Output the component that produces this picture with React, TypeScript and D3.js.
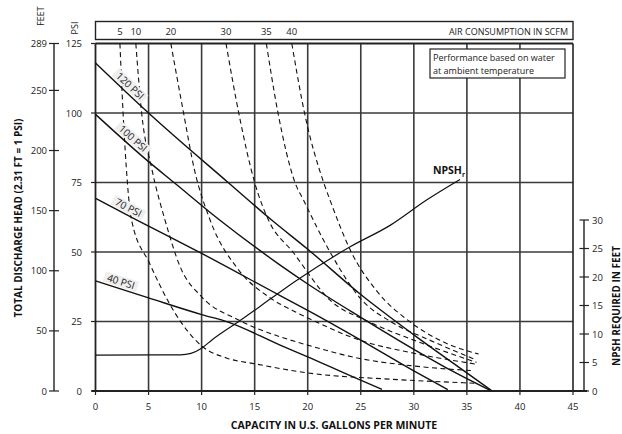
import React from "react";
import * as d3 from "d3";

// ---------- data ----------
const gpmTicks = [0, 5, 10, 15, 20, 25, 30, 35, 40, 45];
const psiTicks = [0, 25, 50, 75, 100, 125];
const feetTicks = [0, 50, 100, 150, 200, 250, 289];
const npshTicks = [0, 5, 10, 15, 20, 25, 30];
const gridGpm = [5, 10, 15, 20, 25, 30, 35, 40];
const gridPsi = [25, 50, 75, 100];

// pressure curves: [gpm, psi]
const psi120: [number, number][] = [[0, 118], [5, 100], [12.5, 75], [16.6, 61.5], [20, 51], [25, 34.7], [30, 20.2], [34, 9.2], [37.3, 0.2]];
const psi100: [number, number][] = [[0, 99.5], [5, 82.5], [7.4, 75], [11.7, 61.5], [17.4, 45.3], [20, 38.5], [25, 26.5], [30, 15], [34, 6.4], [37.2, 0.2]];
const psi70: [number, number][] = [[0, 69.3], [3.9, 61.5], [10, 49.5], [17.4, 34.3], [20, 29], [25, 18.3], [30, 7.2], [33.2, 0.5]];
const psi40: [number, number][] = [[0, 39.6], [5, 33.5], [10, 27.5], [12.5, 24.8], [17.4, 16.5], [20, 12.3], [24, 5.5], [27, 0.6]];
const psiSeries = [
  { name: "120 PSI", data: psi120, labelAt: 2.8 },
  { name: "100 PSI", data: psi100, labelAt: 3.1 },
  { name: "70 PSI", data: psi70, labelAt: 2.8 },
  { name: "40 PSI", data: psi40, labelAt: 2.2 },
];

// air consumption curves (SCFM): [gpm, psi]
const air5: [number, number][] = [[2.3, 125], [2.6, 100], [3.4, 61.5], [5.1, 45.9], [7.5, 28], [10, 16.2], [12.4, 11.8], [15, 9.8], [20, 6.5], [28, 4.2], [35.8, 2.8]];
const air10: [number, number][] = [[3.8, 125], [4.35, 100], [5.3, 80], [6.55, 61.5], [8, 44.5], [10, 33.9], [13.5, 25.5], [17.4, 19.5], [20, 16.5], [24.9, 11.7], [30, 9], [35.6, 7.3]];
const air20: [number, number][] = [[7.1, 125], [8.3, 100], [9.3, 80], [10.8, 61.5], [13.5, 43.5], [16.3, 33.9], [18.8, 28.5], [20, 26.3], [24.9, 18.3], [30, 13.6], [35.8, 9.7]];
const air30: [number, number][] = [[12.3, 125], [13.5, 100], [15, 75], [16.3, 61.5], [18.6, 50], [22.1, 32.7], [25.7, 25], [30, 18.3], [35.9, 10.3]];
const air35: [number, number][] = [[16.1, 125], [17.2, 100], [18.8, 75], [19.6, 68.7], [22.1, 50], [25.1, 32.7], [27.8, 25], [31.5, 18.3], [35.6, 11.6]];
const air40: [number, number][] = [[18.5, 125], [19.7, 100], [21.5, 75], [22.1, 68.7], [24.1, 50], [26.5, 36], [29.6, 25], [33.1, 17.1], [36.1, 13.3]];
const airSeries = [
  { scfm: 5, data: air5 },
  { scfm: 10, data: air10 },
  { scfm: 20, data: air20 },
  { scfm: 30, data: air30 },
  { scfm: 35, data: air35 },
  { scfm: 40, data: air40 },
];

// NPSH required: [gpm, feet]
const npshData: [number, number][] = [[0, 6.3], [8, 6.35], [9, 6.6], [10, 7.5], [11, 9], [13.5, 12.2], [16.6, 16.3], [18.8, 19.2], [24, 25.3], [27.8, 29.1], [31.2, 33.5], [34.35, 37.1]];

// ---------- layout ----------
const W = 622, H = 434;
const X0 = 95.5, X1 = 573, Y0 = 391, Y1 = 43.5;
const FONT = "'Open Sans', 'Noto Sans', sans-serif";

export default function App() {
  const x = d3.scaleLinear().domain([0, 45]).range([X0, X1]);
  const y = d3.scaleLinear().domain([0, 125]).range([Y0, Y1]);
  const yFeet = d3.scaleLinear().domain([0, 289]).range([Y0, Y1]);
  const yN = d3.scaleLinear().domain([0, 30]).range([Y0, 220]);

  const lineP = d3.line<[number, number]>().x(d => x(d[0])).y(d => y(d[1])).curve(d3.curveMonotoneX);
  const lineN = d3.line<[number, number]>().x(d => x(d[0])).y(d => yN(d[1])).curve(d3.curveMonotoneX);

  const grid = "#3a3a3a";
  const NAx = 584;

  return (
    <svg width={W} height={H} style={{ position: "absolute", left: 0, top: 0, background: "#fff" }} fontFamily={FONT}>
      {/* grid */}
      {gridGpm.map(g => (
        <line key={"vg" + g} x1={x(g)} x2={x(g)} y1={Y1} y2={Y0} stroke={grid} strokeWidth={1.6} />
      ))}
      {gridPsi.map(p => (
        <line key={"hg" + p} x1={X0} x2={X1} y1={y(p)} y2={y(p)} stroke={grid} strokeWidth={1.6} />
      ))}
      {/* plot frame */}
      <line x1={X0} x2={X1} y1={Y1} y2={Y1} stroke="#222" strokeWidth={1.8} />
      <line x1={X0} x2={X0} y1={Y1} y2={Y0} stroke="#222" strokeWidth={1.8} />
      <line x1={X1} x2={X1} y1={Y1} y2={Y0} stroke="#222" strokeWidth={1.6} />
      <line x1={X0 - 4} x2={587} y1={Y0} y2={Y0} stroke="#222" strokeWidth={1.8} />

      {/* air consumption curves */}
      {airSeries.map(s => (
        <path key={"air" + s.scfm} d={lineP(s.data) || ""} fill="none" stroke="#111" strokeWidth={1.1} strokeDasharray="5,3.5" />
      ))}

      {/* pressure curves */}
      {psiSeries.map(s => (
        <path key={s.name} d={lineP(s.data) || ""} fill="none" stroke="#111" strokeWidth={1.4} />
      ))}

      {/* NPSH curve */}
      <path d={lineN(npshData) || ""} fill="none" stroke="#111" strokeWidth={1.2} />
      <text x={x(31.8)} y={yN(36.8) - 7} fontSize={10.5} fontWeight="bold" fill="#111">
        NPSH<tspan fontSize={6.5} dy={3}>r</tspan>
      </text>

      {/* pressure labels */}
      {psiSeries.map(s => {
        const d = s.data;
        const ang = (Math.atan2(y(d[1][1]) - y(d[0][1]), x(d[1][0]) - x(d[0][0])) * 180) / Math.PI;
        const t = s.labelAt;
        const pv = d[0][1] + ((d[1][1] - d[0][1]) * (t - d[0][0])) / (d[1][0] - d[0][0]);
        const len = s.name.length * 5.5;
        return (
          <g key={"lbl" + s.name} transform={`translate(${x(t)},${y(pv)}) rotate(${ang})`}>
            <rect x={-len / 2 - 1} y={-12.5} width={len + 2} height={11} fill="#efefef" />
            <text x={0} y={-3.5} textAnchor="middle" fontSize={10} fill="#222">{s.name}</text>
          </g>
        );
      })}

      {/* top air consumption box */}
      <rect x={X0} y={21.5} width={X1 - X0} height={18} fill="none" stroke="#222" strokeWidth={1.4} />
      {airSeries.map(s => (
        <text key={"at" + s.scfm} x={x(s.data[0][0])} y={35} textAnchor="middle" fontSize={9.5} fill="#222">{s.scfm}</text>
      ))}
      <text x={568} y={35} textAnchor="end" fontSize={9} fill="#222">AIR CONSUMPTION IN SCFM</text>

      {/* note box */}
      <rect x={430} y={49} width={135} height={29} fill="#fff" stroke="#222" strokeWidth={1.2} />
      <text x={433} y={60.5} fontSize={9} fill="#222">Performance based on water</text>
      <text x={433} y={73.5} fontSize={9} fill="#222">at ambient temperature</text>

      {/* x axis ticks */}
      {gpmTicks.map(g => (
        <g key={"xt" + g}>
          <line x1={x(g)} x2={x(g)} y1={Y0} y2={Y0 + 4} stroke="#222" strokeWidth={1.2} />
          <text x={x(g)} y={Y0 + 19} textAnchor="middle" fontSize={9.5} fill="#222">{g}</text>
        </g>
      ))}
      <text x={334} y={429} textAnchor="middle" fontSize={10.5} fontWeight="bold" fill="#111">CAPACITY IN U.S. GALLONS PER MINUTE</text>

      {/* PSI axis */}
      {psiTicks.map(p => (
        <g key={"pt" + p}>
          <line x1={X0 - 4.5} x2={X0} y1={y(p)} y2={y(p)} stroke="#222" strokeWidth={1.2} />
          <text x={82} y={y(p) + 3.5} textAnchor="end" fontSize={9.5} fill="#222">{p}</text>
        </g>
      ))}
      <text transform={`translate(78,28) rotate(-90)`} textAnchor="middle" fontSize={9} fill="#222">PSI</text>

      {/* FEET axis */}
      <line x1={54} x2={54} y1={Y1} y2={Y0} stroke="#222" strokeWidth={1.4} />
      {feetTicks.map(f => (
        <g key={"ft" + f}>
          <line x1={49} x2={59} y1={yFeet(f)} y2={yFeet(f)} stroke="#222" strokeWidth={1.2} />
          <text x={47} y={yFeet(f) + 3.5} textAnchor="end" fontSize={9.5} fill="#222">{f}</text>
        </g>
      ))}
      <text transform={`translate(44,16) rotate(-90)`} textAnchor="middle" fontSize={9} fill="#222">FEET</text>
      <text transform={`translate(21.5,218) rotate(-90)`} textAnchor="middle" fontSize={10} fontWeight="bold" fill="#111">TOTAL DISCHARGE HEAD (2.31 FT = 1 PSI)</text>

      {/* NPSH axis */}
      <line x1={NAx} x2={NAx} y1={yN(30)} y2={Y0} stroke="#222" strokeWidth={1.4} />
      {npshTicks.map(n => (
        <g key={"nt" + n}>
          <line x1={NAx - 4.5} x2={NAx + 5} y1={yN(n)} y2={yN(n)} stroke="#222" strokeWidth={1.2} />
          <text x={592} y={yN(n) + 3.5} fontSize={9.5} fill="#222">{n}</text>
        </g>
      ))}
      <text transform={`translate(620,306) rotate(-90)`} textAnchor="middle" fontSize={10} fontWeight="bold" fill="#111">NPSH REQUIRED IN FEET</text>
    </svg>
  );
}
